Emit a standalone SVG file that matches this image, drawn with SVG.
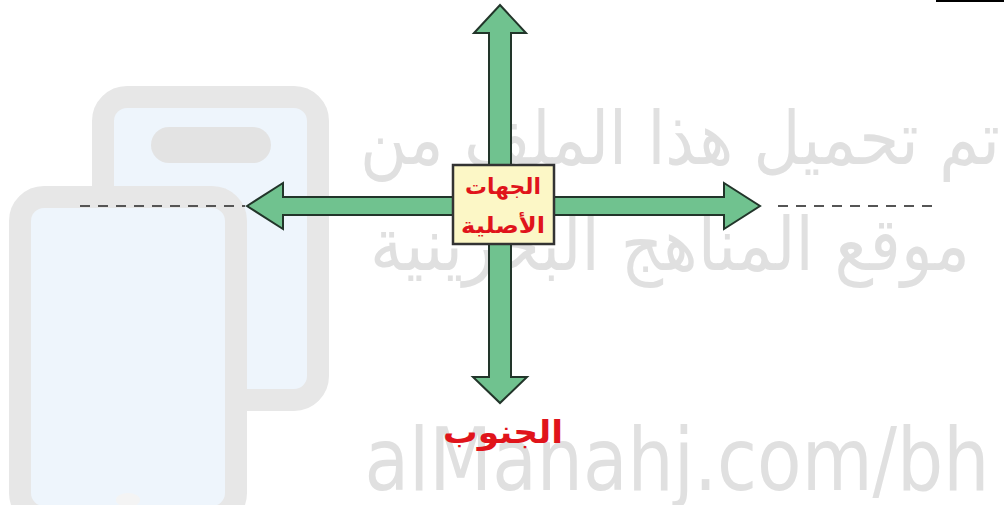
<svg xmlns="http://www.w3.org/2000/svg" width="1004" height="505" viewBox="0 0 1004 505">
<style>
.wm-frame{fill:#eef5fc;stroke:#e7e7e7;stroke-width:22}
.wm-text{fill:#e0e0e0;font-family:"DejaVu Sans","Noto Sans",sans-serif;text-anchor:middle}
.arrow{fill:#70c28f;stroke:#22352a;stroke-width:2;stroke-linejoin:miter}
.dash{stroke:#555;stroke-width:2;stroke-dasharray:10 8;fill:none}
.label{fill:#e0141b;font-family:"DejaVu Sans",sans-serif;font-weight:bold;text-anchor:middle}
</style>
<rect width="1004" height="505" fill="#ffffff"/>
<g id="watermark">
  <rect class="wm-frame" x="103" y="97" width="215" height="303" rx="24"/>
  <rect x="151" y="127" width="120" height="36" rx="18" fill="#e3e3e3"/>
  <rect class="wm-frame" x="20" y="197" width="216" height="320" rx="24"/>
  <ellipse cx="128" cy="500" rx="12" ry="7" fill="#f4f4f4"/>
  <text class="wm-text" x="680" y="164" font-size="74" textLength="640" lengthAdjust="spacingAndGlyphs">تم تحميل هذا الملف من</text>
  <text class="wm-text" x="670" y="270" font-size="74" textLength="600" lengthAdjust="spacingAndGlyphs">موقع المناهج البحرينية</text>
  <text class="wm-text" x="677" y="490" font-size="88" font-family="Roboto,sans-serif" textLength="625" lengthAdjust="spacingAndGlyphs">alManahj.com/bh</text>
</g>
<line x1="936" y1="1" x2="1004" y2="1" stroke="#000" stroke-width="2"/>
<g id="connectors">
  <line class="dash" x1="80" y1="206" x2="245" y2="206"/>
  <line class="dash" x1="778" y1="206" x2="940" y2="206"/>
  <polygon class="arrow" points="500,5 526,33 511,33 511,377 527,377 500,403 473,377 489,377 489,33 474,33"/>
  <polygon class="arrow" points="247,206 283,183 283,197 724,197 724,183 760,206 724,229 724,215 283,215 283,229"/>
</g>
<g id="node-center">
  <rect x="453" y="165" width="101" height="79" fill="#fcf7c6" stroke="#333" stroke-width="2.5"/>
  <text class="label" x="503" y="194" font-size="22" textLength="76" lengthAdjust="spacingAndGlyphs">الجهات</text>
  <text class="label" x="503" y="233" font-size="22" textLength="84" lengthAdjust="spacingAndGlyphs">الأصلية</text>
</g>
<g id="node-south">
  <text class="label" x="503" y="443" font-size="32" textLength="120" lengthAdjust="spacingAndGlyphs">الجنوب</text>
</g>
</svg>
